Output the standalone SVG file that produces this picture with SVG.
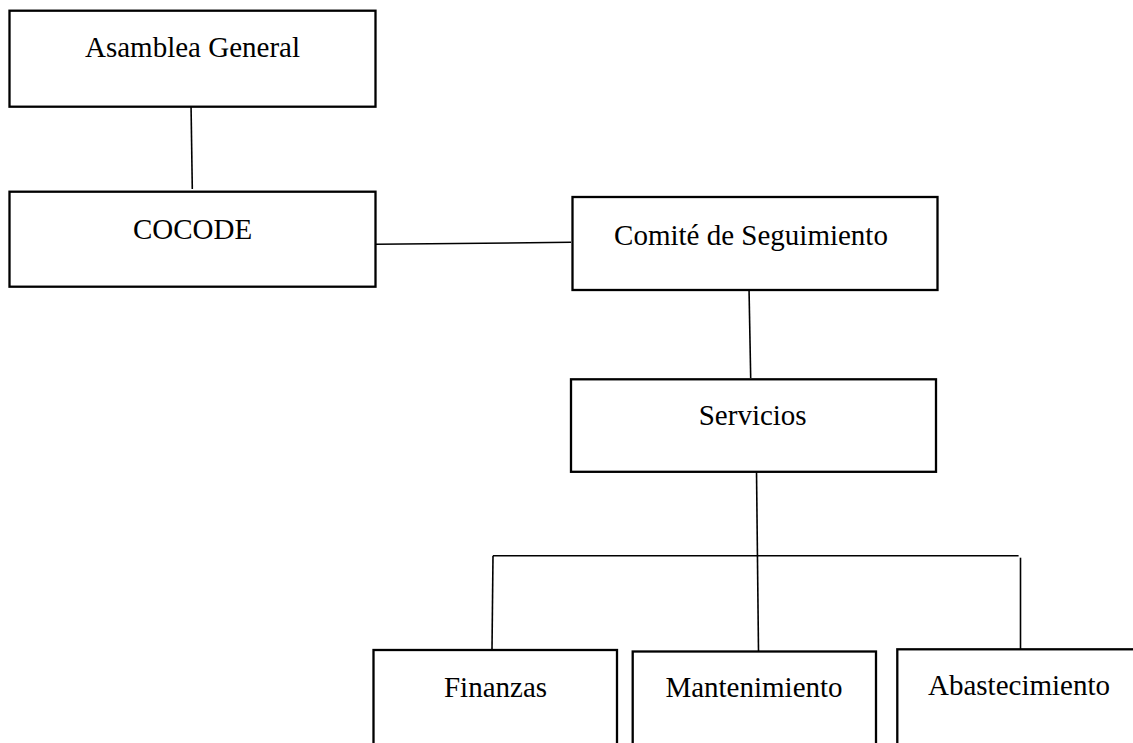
<svg xmlns="http://www.w3.org/2000/svg" width="1133" height="743" viewBox="0 0 1133 743">
<style>
.box{fill:#fff;stroke:#000;stroke-width:2.3}
.lbl{font-family:"Liberation Serif","Times New Roman",serif;font-size:29px;fill:#000;text-anchor:middle}
.ln{stroke:#000;stroke-width:1.6;fill:none}
</style>
<rect width="1133" height="743" fill="#fff"/>
<g id="connectors">
<line class="ln" x1="191" y1="103" x2="192.3" y2="189"/>
<line class="ln" x1="376" y1="244.3" x2="571" y2="242.3"/>
<line class="ln" x1="749" y1="287.5" x2="750.7" y2="378"/>
<line class="ln" x1="756.5" y1="470.5" x2="758.5" y2="651"/>
<line class="ln" x1="493" y1="555.7" x2="1018.6" y2="555.7"/>
<line class="ln" x1="493" y1="555.7" x2="492" y2="649"/>
<line class="ln" x1="1020.5" y1="557.7" x2="1020.5" y2="651"/>
</g>
<g id="asamblea">
<rect class="box" x="9.5" y="10.7" width="366" height="96"/>
<text class="lbl" x="192.5" y="57">Asamblea General</text>
</g>
<g id="cocode">
<rect class="box" x="9.5" y="191.7" width="366" height="95"/>
<text class="lbl" x="192.5" y="239">COCODE</text>
</g>
<g id="comite">
<rect class="box" x="572.5" y="197" width="365" height="93"/>
<text class="lbl" x="751" y="245">Comité de Seguimiento</text>
</g>
<g id="servicios">
<rect class="box" x="571" y="379.3" width="365" height="92.5"/>
<text class="lbl" x="752.7" y="425">Servicios</text>
</g>
<g id="finanzas">
<rect class="box" x="373.5" y="650" width="243.5" height="110"/>
<text class="lbl" x="495.5" y="697">Finanzas</text>
</g>
<g id="mantenimiento">
<rect class="box" x="632.7" y="651.5" width="243.3" height="110"/>
<text class="lbl" x="754" y="697">Mantenimiento</text>
</g>
<g id="abastecimiento">
<rect class="box" x="897.3" y="649.3" width="244" height="110"/>
<text class="lbl" x="1019" y="695">Abastecimiento</text>
</g>
</svg>
